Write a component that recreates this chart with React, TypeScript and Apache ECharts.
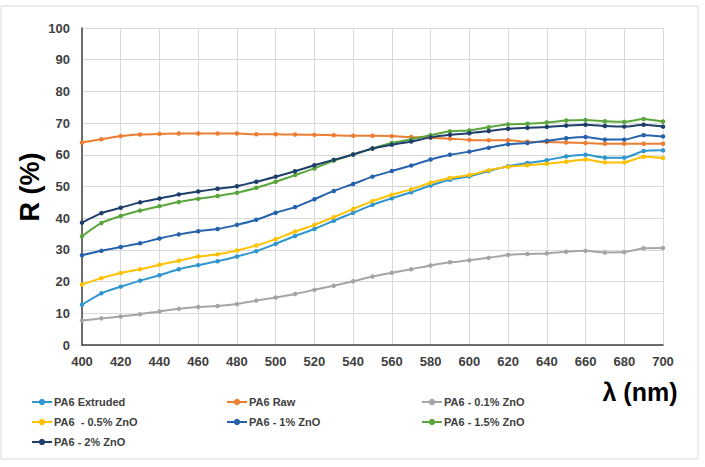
import React, { useEffect, useRef } from "react";
import * as echarts from "echarts";

const wavelengths = [400, 410, 420, 430, 440, 450, 460, 470, 480, 490, 500, 510, 520, 530, 540, 550, 560, 570, 580, 590, 600, 610, 620, 630, 640, 650, 660, 670, 680, 690, 700];

const extruded = [12.7, 16.3, 18.4, 20.3, 22.0, 23.9, 25.2, 26.4, 27.9, 29.6, 31.9, 34.4, 36.6, 39.2, 41.7, 44.2, 46.3, 48.2, 50.3, 52.1, 53.2, 54.9, 56.4, 57.4, 58.3, 59.5, 60.0, 59.1, 59.1, 61.2, 61.4];
const raw = [63.9, 64.9, 65.9, 66.4, 66.6, 66.7, 66.7, 66.7, 66.7, 66.5, 66.5, 66.4, 66.3, 66.2, 66.0, 66.0, 65.9, 65.6, 65.4, 65.1, 64.7, 64.6, 64.6, 64.1, 64.0, 63.9, 63.7, 63.5, 63.5, 63.5, 63.5];
const zno01 = [7.7, 8.4, 9.0, 9.7, 10.6, 11.4, 12.0, 12.3, 12.9, 14.0, 15.0, 16.1, 17.4, 18.7, 20.1, 21.6, 22.8, 23.9, 25.1, 26.1, 26.7, 27.5, 28.4, 28.7, 28.9, 29.4, 29.7, 29.2, 29.3, 30.5, 30.6];
const zno05 = [19.1, 21.1, 22.7, 23.9, 25.3, 26.6, 27.9, 28.6, 29.8, 31.4, 33.4, 35.8, 37.9, 40.3, 42.9, 45.4, 47.4, 49.1, 51.2, 52.7, 53.6, 55.1, 56.2, 56.7, 57.2, 57.8, 58.5, 57.6, 57.6, 59.4, 59.0];
const zno1 = [28.3, 29.7, 30.9, 32.1, 33.6, 34.9, 35.9, 36.6, 37.9, 39.5, 41.7, 43.5, 46.0, 48.6, 50.8, 53.1, 54.9, 56.6, 58.5, 60.0, 61.0, 62.2, 63.3, 63.7, 64.4, 65.2, 65.6, 64.8, 64.8, 66.2, 65.8];
const zno15 = [34.3, 38.5, 40.7, 42.4, 43.8, 45.1, 46.1, 47.0, 48.0, 49.6, 51.5, 53.6, 55.7, 58.2, 60.1, 62.0, 63.7, 64.9, 66.2, 67.4, 67.7, 68.7, 69.6, 69.8, 70.2, 70.8, 71.0, 70.6, 70.4, 71.3, 70.5];
const zno2 = [38.6, 41.6, 43.3, 45.0, 46.2, 47.5, 48.4, 49.3, 50.1, 51.5, 53.1, 54.8, 56.7, 58.4, 60.1, 62.0, 63.2, 64.2, 65.5, 66.3, 66.8, 67.5, 68.2, 68.5, 68.8, 69.2, 69.5, 69.1, 68.9, 69.5, 68.9];

const seriesNames = ["PA6 Extruded", "PA6 Raw", "PA6 - 0.1% ZnO", "PA6  - 0.5% ZnO", "PA6 - 1% ZnO", "PA6 - 1.5% ZnO", "PA6 - 2% ZnO"];
const seriesValues = [extruded, raw, zno01, zno05, zno1, zno15, zno2];
const seriesColors = ["#2F96CF", "#ED7D31", "#A5A5A5", "#FFC000", "#2763AD", "#5AA63C", "#1E3F6C"];

const yTicks = [0, 10, 20, 30, 40, 50, 60, 70, 80, 90, 100];
const xTicks = [400, 420, 440, 460, 480, 500, 520, 540, 560, 580, 600, 620, 640, 660, 680, 700];

const FONT = "Arial, 'Liberation Sans', Helvetica, sans-serif";

export default function App() {
  const ref = useRef<HTMLDivElement>(null);
  useEffect(() => {
    if (!ref.current) return;
    const chart = echarts.init(ref.current, null, { renderer: "svg" });
    chart.setOption({
      animation: false,
      backgroundColor: "#ffffff",
      grid: { left: 82, right: 42, top: 28, bottom: 122, containLabel: false },
      xAxis: {
        type: "value",
        min: xTicks[0],
        max: xTicks[xTicks.length - 1],
        interval: 20,
        axisLine: { show: true, lineStyle: { color: "#404040", width: 1.5 } },
        axisTick: { show: false },
        axisLabel: { color: "#404040", fontSize: 13, fontWeight: "bold", fontFamily: FONT, margin: 10 },
        splitLine: { show: true, lineStyle: { color: "#d9d9d9", width: 1 } },
      },
      yAxis: {
        type: "value",
        min: yTicks[0],
        max: yTicks[yTicks.length - 1],
        interval: 10,
        axisLine: { show: true, lineStyle: { color: "#404040", width: 1.5 } },
        axisTick: { show: false },
        axisLabel: { color: "#404040", fontSize: 13, fontWeight: "bold", fontFamily: FONT, margin: 12 },
        splitLine: { show: true, lineStyle: { color: "#d9d9d9", width: 1 } },
      },
      legend: {
        left: 31,
        top: 392,
        width: 620,
        orient: "horizontal",
        itemWidth: 20,
        itemHeight: 8,
        itemGap: 0,
        padding: 0,
        data: seriesNames,
        textStyle: {
          width: 172,
          fontSize: 11,
          fontWeight: "bold",
          color: "#404040",
          fontFamily: FONT,
          lineHeight: 20,
          padding: [0, 0, 0, -3],
        },
      },
      graphic: [
        {
          type: "rect",
          silent: true,
          shape: { x: 1, y: 6, width: 697, height: 453 },
          style: { fill: "none", stroke: "#d9d9d9", lineWidth: 1 },
        },
        {
          type: "text",
          x: 30,
          y: 187,
          rotation: Math.PI / 2,
          style: {
            text: "R (%)",
            font: `bold 27px ${FONT}`,
            fill: "#000000",
            textAlign: "center",
            textVerticalAlign: "middle",
          },
        },
        {
          type: "text",
          x: 640,
          y: 392,
          style: {
            text: "λ (nm)",
            font: `bold 25px ${FONT}`,
            fill: "#000000",
            textAlign: "center",
            textVerticalAlign: "middle",
          },
        },
      ],
      series: seriesNames.map((name, i) => ({
        name,
        type: "line",
        data: wavelengths.map((w, j) => [w, seriesValues[i][j]]),
        symbol: "circle",
        symbolSize: 4.5,
        smooth: 0.2,
        itemStyle: { color: seriesColors[i] },
        lineStyle: { color: seriesColors[i], width: 2 },
      })),
    });
    return () => chart.dispose();
  }, []);
  return (
    <div
      ref={ref}
      style={{ position: "fixed", left: 0, top: 0, width: 705, height: 467, background: "#fff" }}
    />
  );
}
